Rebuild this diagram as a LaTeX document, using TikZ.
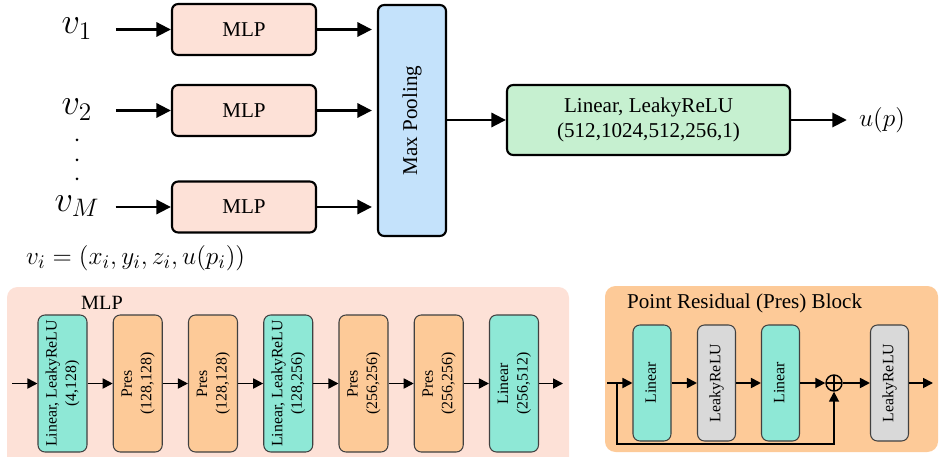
\documentclass[tikz,border=0pt]{standalone}
\usepackage{fontspec}
\setmainfont{Liberation Serif}
\usetikzlibrary{arrows.meta,positioning,calc}
\definecolor{mlpfill}{RGB}{253,225,215}
\definecolor{poolfill}{RGB}{196,226,251}
\definecolor{headfill}{RGB}{198,240,208}
\definecolor{linfill}{RGB}{142,232,214}
\definecolor{presfill}{RGB}{253,202,152}
\definecolor{relufill}{RGB}{217,217,217}
\newcommand{\vlabel}[1]{\rotatebox{90}{\begin{tabular}{@{}c@{}}#1\end{tabular}}}

\begin{document}
\begin{tikzpicture}[
  blk/.style={draw=black, line width=1.2pt, rounded corners=3.5pt, align=center, font=\large, inner sep=2pt},
  layer/.style={draw=black!75, line width=0.6pt, rounded corners=4pt, minimum width=0.98cm, minimum height=2.74cm, inner sep=0pt, font=\small},
  player/.style={layer, minimum width=0.76cm, minimum height=2.32cm},
  arr/.style={-{Triangle[length=2.9mm,width=2.8mm]}, line width=1.7pt},
  sarr/.style={-{Triangle[length=2mm,width=2mm]}, line width=1pt},
  inlab/.style={font=\fontsize{20}{24}\selectfont}
]
\useasboundingbox (0,0) rectangle (18.8,9.12);

% ================= TOP: point-wise MLPs, pooling, head =================
\node[blk, fill=mlpfill, minimum width=2.88cm, minimum height=1.02cm] (mlp1) at (4.88,8.53) {MLP};
\node[blk, fill=mlpfill, minimum width=2.88cm, minimum height=1.02cm] (mlp2) at (4.88,6.91) {MLP};
\node[blk, fill=mlpfill, minimum width=2.88cm, minimum height=1.02cm] (mlp3) at (4.88,4.98) {MLP};

\node[inlab] (v1) at (1.54,8.55) {$v_1$};
\node[inlab] (v2) at (1.54,6.93) {$v_2$};
\node[inlab] (vM) at (1.54,5.00) {$v_M$};
\foreach \y in {6.32,5.92,5.54}
  \fill (1.54,\y) circle (0.03);

\draw[arr, shorten <=3.5mm] (v1.east |- mlp1.west) -- (mlp1.west);
\draw[arr, shorten <=3.5mm] (v2.east |- mlp2.west) -- (mlp2.west);
\draw[arr, shorten <=2mm] (vM.east |- mlp3.west) -- (mlp3.west);

\node[blk, fill=poolfill, minimum width=1.36cm, minimum height=4.62cm] (pool) at (8.24,6.71) {\rotatebox{90}{Max Pooling}};
\foreach \m in {mlp1,mlp2,mlp3}
  \draw[arr, shorten >=1mm] (\m.east) -- (\m.east -| pool.west);

\node[blk, fill=headfill, minimum width=5.66cm, minimum height=1.40cm] (head) at (12.97,6.72) {Linear, LeakyReLU\\(512,1024,512,256,1)};
\draw[arr] (pool.east |- head.west) -- (head.west);

\node[font=\Large] (up) at (17.64,6.72) {$u(p)$};
\draw[arr, shorten >=1.2mm] (head.east) -- (up.west);

\node[font=\fontsize{15}{18}\selectfont, anchor=west] (vdef) at (0.40,3.96) {$v_i=(x_i,y_i,z_i,u(p_i))$};

% ================= BOTTOM LEFT: layers of one MLP =================
\fill[mlpfill, rounded corners=6pt] (0.14,-0.3) rectangle (11.38,3.38);
\node[font=\fontsize{11.5}{14}\selectfont] (mlptitle) at (2.04,3.06) {MLP};

\foreach \i/\c/\t in {0/linfill/{Linear, LeakyReLU\\(4,128)},
                      1/presfill/{Pres\\(128,128)},
                      2/presfill/{Pres\\(128,128)},
                      3/linfill/{Linear, LeakyReLU\\(128,256)},
                      4/presfill/{Pres\\(256,256)},
                      5/presfill/{Pres\\(256,256)},
                      6/linfill/{Linear\\(256,512)}}
  \node[layer, fill=\c] (l\i) at (1.25+1.505*\i,1.45) {\vlabel{\t}};

\coordinate (min) at (0.24,1.45);
\coordinate (mout) at (11.26,1.45);
\draw[sarr] (min) -- (l0.west);
\foreach \i/\j in {0/1,1/2,2/3,3/4,4/5,5/6}
  \draw[sarr] (l\i.east) -- (l\j.west);
\draw[sarr] (l6.east) -- (mout);

% ================= BOTTOM RIGHT: point residual block =================
\fill[presfill, rounded corners=6pt] (12.10,0.08) rectangle (18.76,3.40);
\node[font=\large, anchor=west] (prestitle) at (12.42,3.06) {Point Residual (Pres) Block};

\node[player, fill=linfill] (p1) at (13.04,1.46) {\vlabel{Linear}};
\node[player, fill=relufill] (p2) at (14.33,1.46) {\vlabel{LeakyReLU}};
\node[player, fill=linfill] (p3) at (15.61,1.46) {\vlabel{Linear}};
\node[draw, circle, line width=0.8pt, minimum size=0.32cm, inner sep=0pt,
      path picture={\draw[line width=0.8pt] (path picture bounding box.north) -- (path picture bounding box.south)
                    (path picture bounding box.west) -- (path picture bounding box.east);}] (sum) at (16.68,1.46) {};
\node[player, fill=relufill] (p4) at (17.79,1.46) {\vlabel{LeakyReLU}};

\coordinate (pin) at (12.14,1.46);
\coordinate (split) at (12.34,1.46);
\coordinate (low) at (12.34,0.24);
\coordinate (pout) at (18.66,1.46);
\draw[sarr] (pin) -- (p1.west);
\draw[sarr] (p1.east) -- (p2.west);
\draw[sarr] (p2.east) -- (p3.west);
\draw[sarr] (p3.east) -- (sum.west);
\draw[sarr] (sum.east) -- (p4.west);
\draw[sarr] (p4.east) -- (pout);
\draw[sarr] (split) -- (low) -| (sum.south);
\end{tikzpicture}
\end{document}
